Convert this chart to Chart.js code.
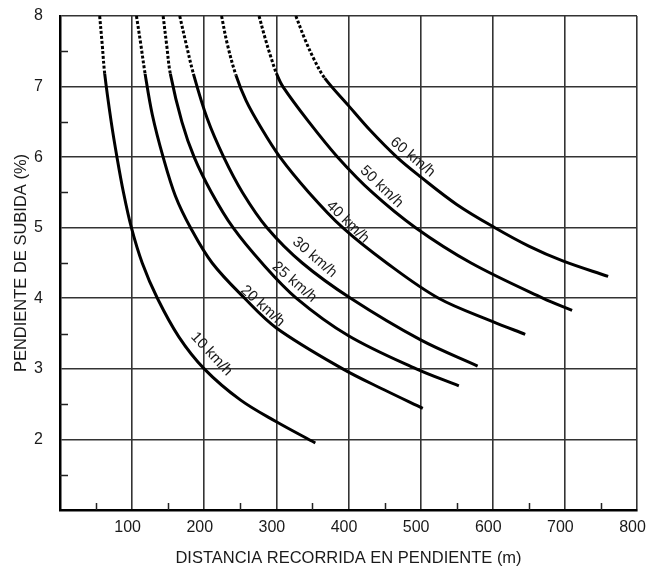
<!DOCTYPE html>
<html>
<head>
<meta charset="utf-8">
<script src="https://cdn.jsdelivr.net/npm/chart.js@4.4.1/dist/chart.umd.min.js"></script>
<style>
  html, body { margin: 0; padding: 0; background: #fff; }
</style>
</head>
<body>
<canvas id="grafico" width="648" height="569"></canvas>
<script>
// velocidades, una curva por cada una
const speeds = ["10 km/h", "20 km/h", "25 km/h", "30 km/h", "40 km/h", "50 km/h", "60 km/h"];

// distancia recorrida (m) / pendiente (%) leidas del grafico
// por encima de ~7.15 % la curva va punteada
const dist10 = [55, 58.5, 62, 71, 79, 88, 99, 114, 135, 165, 200, 250, 300, 354];
const grade10 = [8, 7.6, 7.18, 6.5, 6, 5.5, 5, 4.5, 4, 3.45, 3, 2.56, 2.25, 1.95];

const dist20 = [106, 112, 118, 128, 143, 160, 181, 211, 256, 300, 392, 450, 503];
const grade20 = [8, 7.6, 7.18, 6.6, 6, 5.45, 5, 4.5, 4, 3.58, 3, 2.7, 2.44];

const dist25 = [143, 148, 153, 169, 186, 210, 240, 280, 328, 400, 494, 553];
const grade25 = [8, 7.58, 7.18, 6.5, 6, 5.5, 5, 4.5, 4, 3.47, 3, 2.76];

const dist30 = [166, 175, 185, 204, 227, 253, 287, 336, 403, 500, 579];
const grade30 = [8, 7.6, 7.18, 6.55, 6, 5.5, 5, 4.5, 4, 3.41, 3.04];

const dist40 = [224, 232, 244, 258, 278, 305, 345, 392, 453, 525, 600, 645];
const grade40 = [8, 7.6, 7.16, 6.8, 6.43, 6, 5.5, 5, 4.5, 4, 3.67, 3.49];

const dist50 = [276, 284, 292, 300, 309, 345, 385, 433, 493, 570, 670, 710];
const grade50 = [8, 7.7, 7.43, 7.19, 7, 6.5, 6, 5.5, 5, 4.5, 4, 3.83];

const dist60 = [327, 340, 353, 367, 400, 430, 467, 500, 550, 603, 650, 697, 760];
const grade60 = [8, 7.66, 7.37, 7.12, 6.73, 6.38, 6, 5.72, 5.33, 5, 4.74, 4.53, 4.31];

const distances = [dist10, dist20, dist25, dist30, dist40, dist50, dist60];
const grades = [grade10, grade20, grade25, grade30, grade40, grade50, grade60];

// marcas menores de los ejes
const xMinor = [50, 150, 250, 350, 450, 550, 650, 750];
const yMinor = [1.5, 2.5, 3.5, 4.5, 5.5, 6.5, 7.5];

// donde va cada rotulo (en unidades del grafico) y su giro
const labelSpots = [
  { x: 210, y: 3.21, angle: 47 },
  { x: 281, y: 3.89, angle: 42 },
  { x: 325, y: 4.23, angle: 41 },
  { x: 353, y: 4.58, angle: 41 },
  { x: 399, y: 5.08, angle: 44 },
  { x: 446, y: 5.58, angle: 44 },
  { x: 489, y: 6.0, angle: 40 },
];

const FONT = "'Liberation Sans', Arial, sans-serif";
const DOTTED_ABOVE = 7.1;

const datasets = speeds.map((name, i) => ({
  label: name,
  data: distances[i].map((d, j) => ({ x: d, y: grades[i][j] })),
  showLine: true,
  borderColor: "#000",
  borderWidth: 3,
  borderCapStyle: "butt",
  pointRadius: 0,
  fill: false,
  tension: 0.35,
  segment: {
    // tramo superior punteado
    borderDash: (ctx) =>
      Math.min(ctx.p0.parsed.y, ctx.p1.parsed.y) > DOTTED_ABOVE ? [3, 2] : undefined,
  },
}));

const minorTicks = {
  id: "minorTicks",
  afterDraw(chart) {
    const { ctx, chartArea, scales } = chart;
    ctx.save();
    ctx.strokeStyle = "#222";
    ctx.lineWidth = 1.5;
    ctx.beginPath();
    xMinor.forEach((v) => {
      const px = Math.round(scales.x.getPixelForValue(v)) + 0.5;
      ctx.moveTo(px, chartArea.bottom);
      ctx.lineTo(px, chartArea.bottom - 7);
    });
    yMinor.forEach((v) => {
      const py = Math.round(scales.y.getPixelForValue(v)) + 0.5;
      ctx.moveTo(chartArea.left, py);
      ctx.lineTo(chartArea.left + 8, py);
    });
    ctx.stroke();
    ctx.restore();
  },
};

const curveLabels = {
  id: "curveLabels",
  afterDatasetsDraw(chart) {
    const { ctx, scales } = chart;
    ctx.save();
    ctx.fillStyle = "#1a1a1a";
    ctx.font = "15px " + FONT;
    ctx.textAlign = "center";
    ctx.textBaseline = "middle";
    labelSpots.forEach((s, i) => {
      const px = scales.x.getPixelForValue(s.x);
      const py = scales.y.getPixelForValue(s.y);
      ctx.save();
      ctx.translate(px, py);
      ctx.rotate((s.angle * Math.PI) / 180);
      ctx.fillText(speeds[i], 0, 0);
      ctx.restore();
    });
    ctx.restore();
  },
};

new Chart(document.getElementById("grafico"), {
  type: "scatter",
  data: { datasets },
  options: {
    responsive: false,
    animation: false,
    layout: { padding: { top: 16, right: 11, left: 0, bottom: 0 } },
    plugins: {
      legend: { display: false },
      tooltip: { enabled: false },
    },
    scales: {
      x: {
        type: "linear",
        min: 0,
        max: 800,
        afterFit: (scale) => {
          scale.height = 59;
          scale.paddingLeft = 0;
          scale.paddingRight = 0;
        },
        ticks: {
          stepSize: 100,
          padding: 8,
          labelOffset: -4.5,
          color: "#1a1a1a",
          font: { family: FONT, size: 16 },
          callback: (v) => (v === 0 ? "" : v),
        },
        grid: { color: "#333", lineWidth: 1.6, drawTicks: false },
        border: { color: "#000", width: 2.5 },
        title: {
          display: true,
          text: "DISTANCIA RECORRIDA EN PENDIENTE (m)",
          color: "#1a1a1a",
          font: { family: FONT, size: 16.5 },
          padding: { top: 0, bottom: 1 },
        },
      },
      y: {
        type: "linear",
        min: 1,
        max: 8,
        afterFit: (scale) => {
          scale.width = 60;
          scale.paddingTop = 0;
          scale.paddingBottom = 0;
        },
        ticks: {
          stepSize: 1,
          padding: 17,
          color: "#1a1a1a",
          font: { family: FONT, size: 16 },
          callback: (v) => (v === 1 ? "" : v),
        },
        grid: { color: "#333", lineWidth: 1.6, drawTicks: false },
        border: { color: "#000", width: 2.5 },
        title: {
          display: true,
          text: "PENDIENTE DE SUBIDA (%)",
          color: "#1a1a1a",
          font: { family: FONT, size: 16.5 },
          padding: { top: 12, bottom: 0 },
        },
      },
    },
  },
  plugins: [minorTicks, curveLabels],
});
</script>
</body>
</html>
